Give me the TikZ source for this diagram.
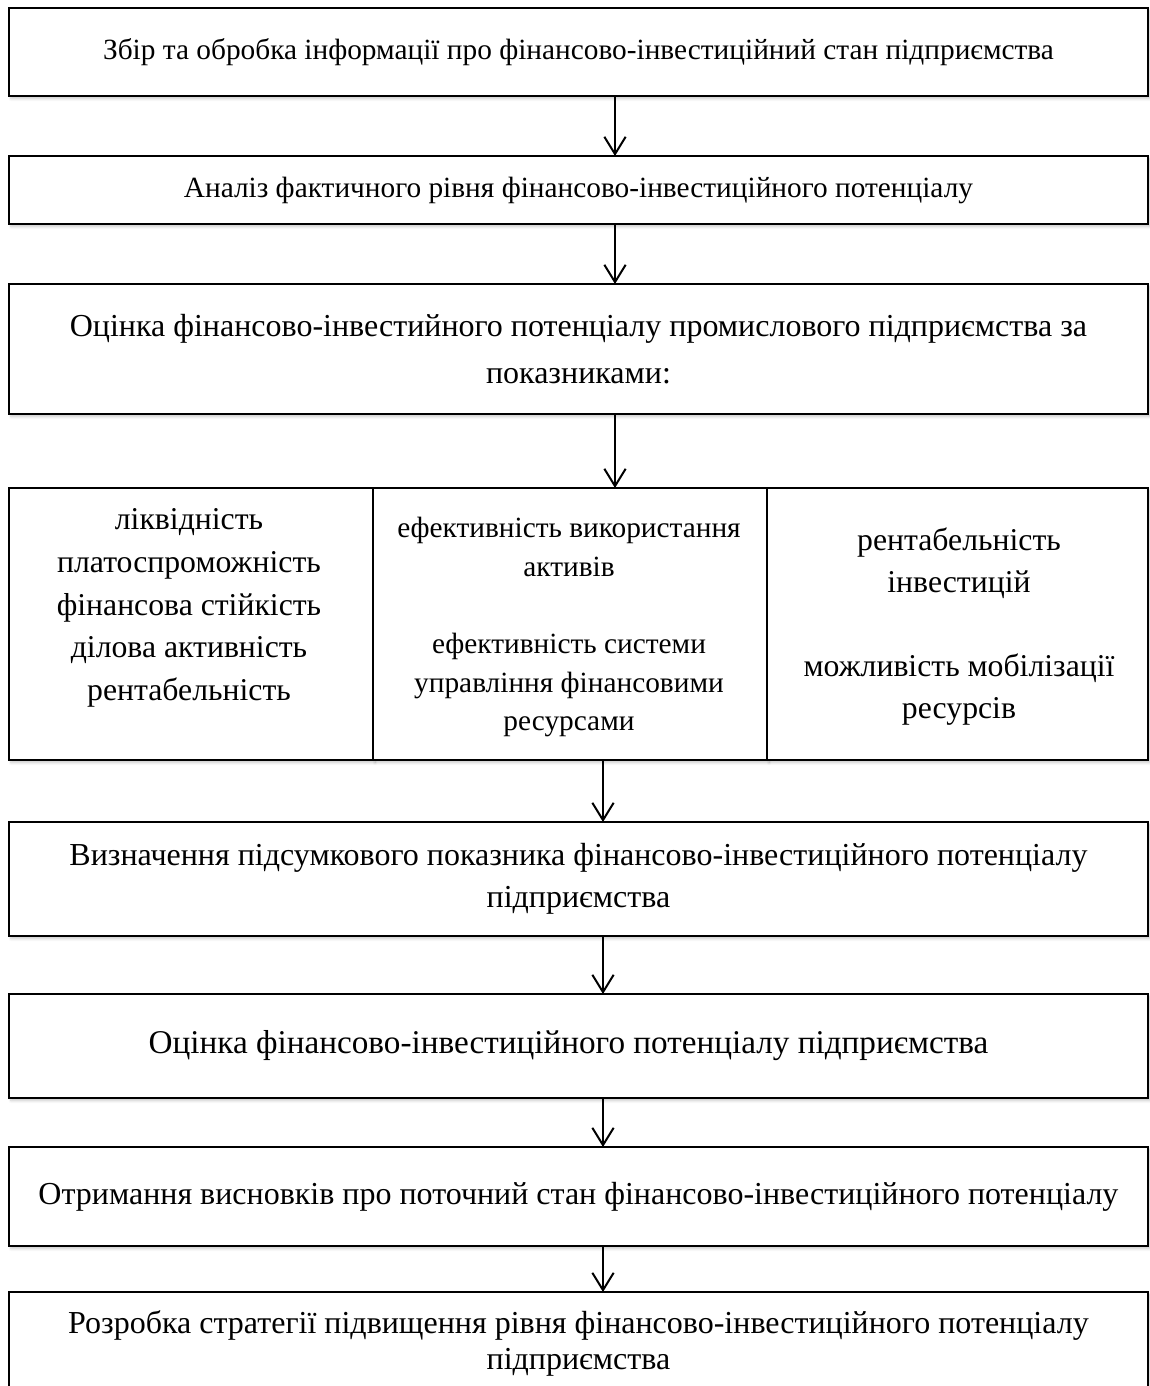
\documentclass[tikz,border=0pt]{standalone}
\usepackage{fontspec}
\setmainfont{Liberation Serif}
\usetikzlibrary{arrows.meta,shadows.blur}

\begin{document}
\begin{tikzpicture}[x=0.75pt,y=-0.75pt,
  softshadow/.style={blur shadow={shadow xshift=1.5pt,shadow yshift=-2pt,shadow opacity=22,shadow blur steps=6,shadow blur radius=2pt}},
  box/.style={draw,line width=1.5pt,fill=white,inner sep=0pt,outer sep=0pt,
    minimum width=854.25pt,align=center,softshadow},
  cell/.style={draw,line width=1.5pt,fill=white,inner sep=0pt,outer sep=0pt,
    minimum height=204pt,softshadow},
  txt/.style={inner sep=0pt,align=center},
  arr/.style={-{Straight Barb[length=13pt,width=16pt]},line width=1.5pt}]

\useasboundingbox (0,0) rectangle (1150,1386);
\clip (0,0) rectangle (1150,1386);

% main chain of stages
\node[box,minimum height=66pt,font=\fontsize{22}{26}\selectfont] (b1) at (578.5,52)
  {Збір та обробка інформації про фінансово-інвестиційний стан підприємства};
\node[box,minimum height=51pt,font=\fontsize{22}{26}\selectfont] (b2) at (578.5,190)
  {Аналіз фактичного рівня фінансово-інвестиційного потенціалу};
\node[box,minimum height=97.5pt,font=\fontsize{24}{35}\selectfont] (b3) at (578.5,349)
  {Оцінка фінансово-інвестийного потенціалу промислового підприємства за\\показниками:};

% three groups of indicators
\node[cell,minimum width=273pt] (c1) at (191,624) {};
\node[cell,minimum width=295.5pt] (c2) at (570,624) {};
\node[cell,minimum width=285.75pt] (c3) at (957.5,624) {};
\node[txt,font=\fontsize{23.8}{32}\selectfont] (t1) at (189,608)
  {ліквідність\\платоспроможність\\фінансова стійкість\\ділова активність\\рентабельність};
\node[txt,font=\fontsize{22}{29}\selectfont] (t2) at (569,627)
  {ефективність використання\\активів\\[29pt]ефективність системи\\управління фінансовими\\ресурсами};
\node[txt,font=\fontsize{23.8}{31.5}\selectfont] (t3) at (959,627)
  {рентабельність\\інвестицій\\[31.5pt]можливість мобілізації\\ресурсів};

\node[box,minimum height=85.5pt,font=\fontsize{24}{31.5}\selectfont] (b5) at (578.5,879)
  {Визначення підсумкового показника фінансово-інвестиційного потенціалу\\підприємства};
\node[box,minimum height=78pt,font=\fontsize{24.9}{29}\selectfont] (b6) at (578.5,1046)
  {Оцінка фінансово-інвестиційного потенціалу підприємства\hspace*{15pt}};
\node[box,minimum height=74.25pt,font=\fontsize{24}{29}\selectfont] (b7) at (578.5,1196.5)
  {Отримання висновків про поточний стан фінансово-інвестиційного потенціалу};
\node[box,minimum height=77.25pt,font=\fontsize{24}{27.5}\selectfont] (b8) at (578.5,1343.5)
  {Розробка стратегії підвищення рівня фінансово-інвестиційного потенціалу\\підприємства};

% arrow columns
\coordinate (ax1) at (615,0);
\coordinate (ax2) at (603,0);

\draw[arr] (b1.south -| ax1) -- (b2.north -| ax1);
\draw[arr] (b2.south -| ax1) -- (b3.north -| ax1);
\draw[arr] (b3.south -| ax1) -- (c2.north -| ax1);
\draw[arr] (c2.south -| ax2) -- (b5.north -| ax2);
\draw[arr] (b5.south -| ax2) -- (b6.north -| ax2);
\draw[arr] (b6.south -| ax2) -- (b7.north -| ax2);
\draw[arr] (b7.south -| ax2) -- (b8.north -| ax2);
\end{tikzpicture}
\end{document}
